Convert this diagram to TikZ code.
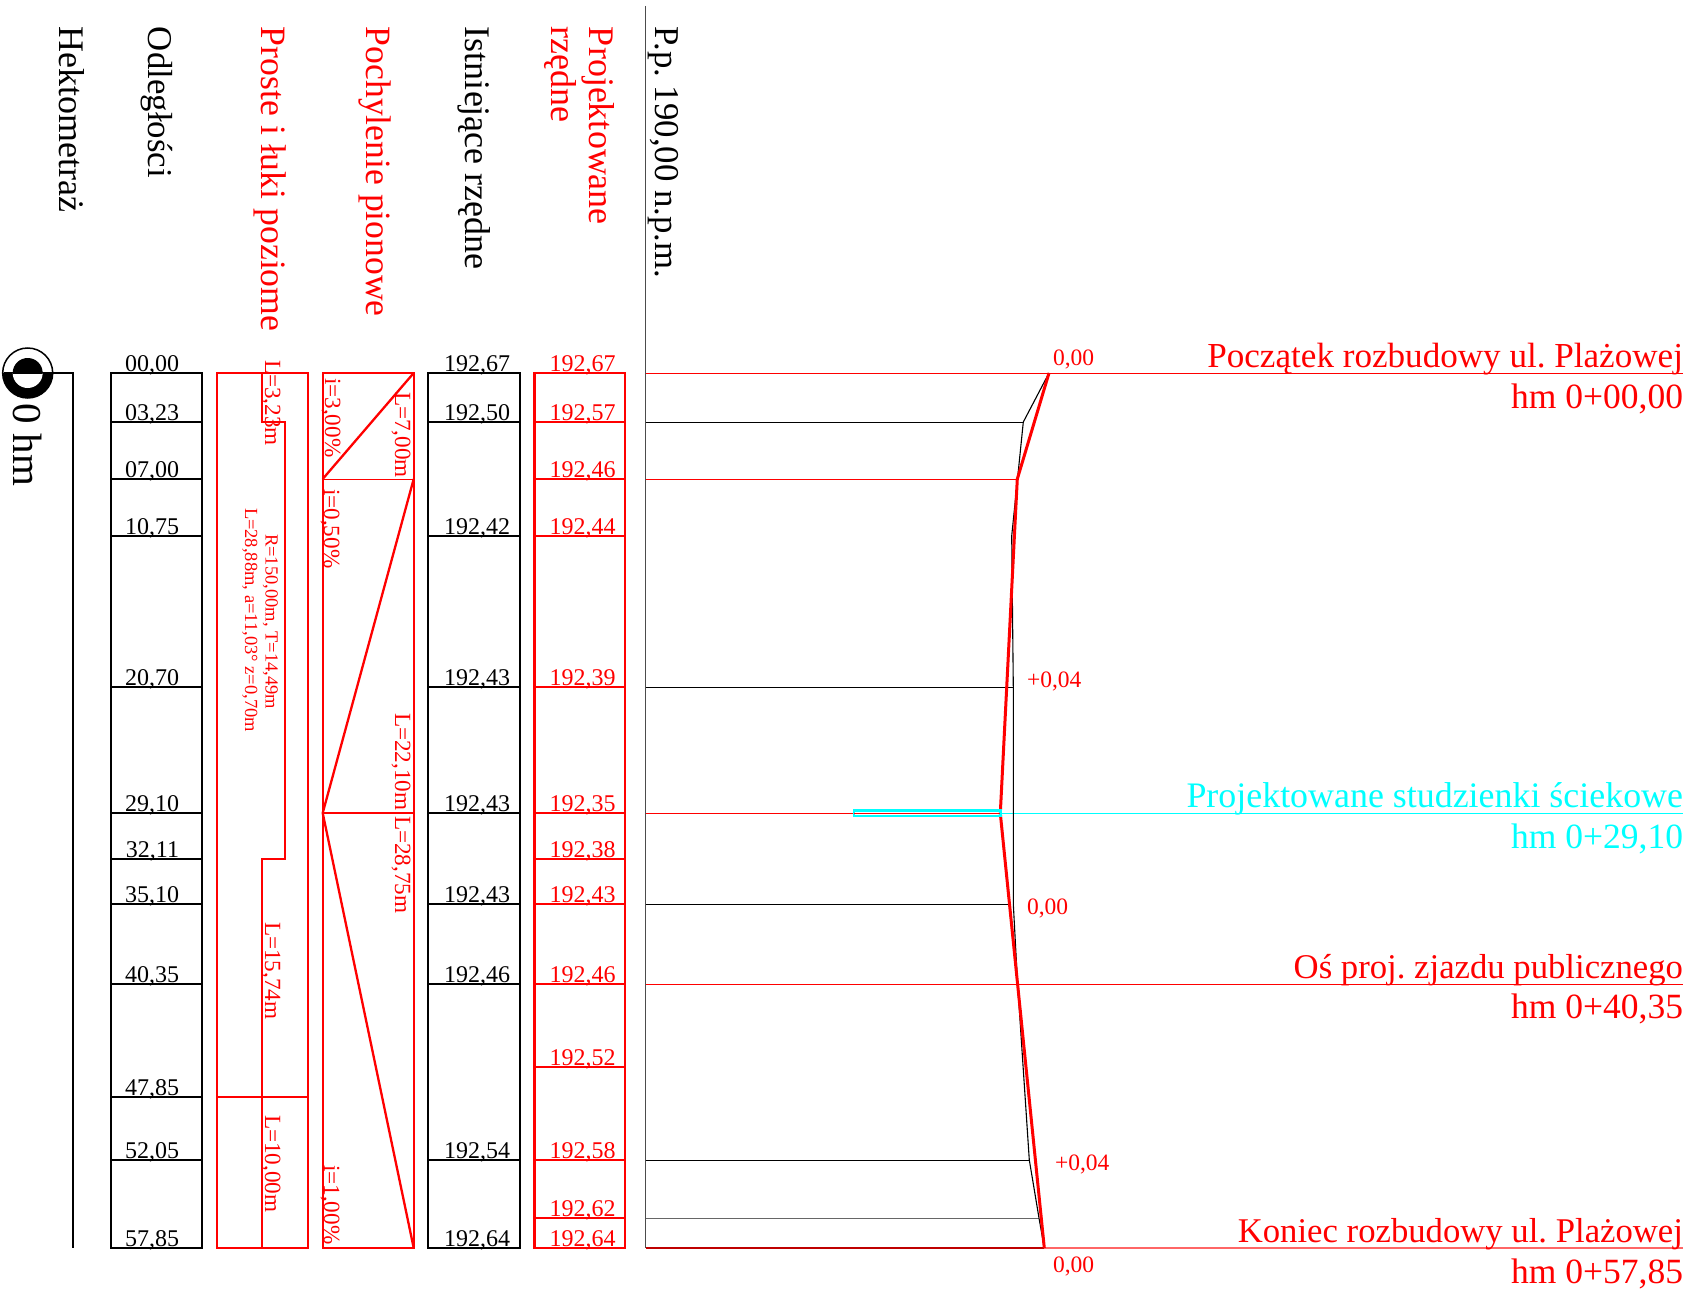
\documentclass[tikz,border=0pt]{standalone}
\usepackage{fontspec}
\setmainfont{Liberation Serif}
\frenchspacing
\definecolor{rd}{HTML}{FF0000}
\definecolor{cy}{HTML}{00FFFF}
\tikzset{
  x=1pt,y=-1pt,
  every node/.style={inner sep=0pt,outer sep=0pt},
  col/.style={line width=2.3pt,draw=#1},
  thin row/.style={line width=0.9pt,draw=#1},
  hdr/.style={rotate=-90,anchor=base west,font=\fontsize{36}{38}\selectfont},
  num/.style={anchor=base east,font=\fontsize{24}{26}\selectfont},
  vlab/.style={rotate=-90,anchor=base west,text=rd,font=\fontsize{23.2}{25}\selectfont},
  vsmall/.style={rotate=-90,anchor=base west,text=rd,font=\fontsize{18.5}{20}\selectfont},
  biglab/.style={anchor=base east,font=\fontsize{35.5}{38}\selectfont},
  small/.style={anchor=base west,text=rd,font=\fontsize{23.5}{25}\selectfont},
}
\begin{document}
\begin{tikzpicture}
\useasboundingbox (0,0) rectangle (1690,1290);
% headers
\node[hdr] (h1) at (59,27) {Hektometraż};
\node[hdr,font=\fontsize{34.8}{38}\selectfont] (h2) at (148,27) {Odległości};
\node[hdr,text=rd,font=\fontsize{35.7}{38}\selectfont] (h3) at (261,27) {Proste i łuki poziome};
\node[hdr,text=rd,font=\fontsize{35.6}{38}\selectfont] (h4) at (366,27) {Pochylenie pionowe};
\node[hdr] (h5) at (465,27) {Istniejące rzędne};
\node[hdr,text=rd] (h6a) at (589,27) {Projektowane};
\node[hdr,text=rd] (h6b) at (551,27) {rzędne};
\node[hdr,font=\fontsize{34.8}{38}\selectfont] (h7) at (655,27) {P.p. 190,00 n.p.m.};
% hectometre axis and mark
\draw[line width=2pt] (4,373) -- (73,373) -- (73,1248);
\begin{scope}
  \clip (0,373) rectangle (60,410);
  \fill[black] (27.7,373) circle[radius=25];
  \fill[white] (27.7,373) circle[radius=15];
\end{scope}
\begin{scope}
  \clip (0,340) rectangle (60,373);
  \fill[black] (27.7,373) circle[radius=15];
\end{scope}
\draw[line width=1.5pt] (27.7,373) circle[radius=25];
\node[rotate=-90,anchor=base west,font=\fontsize{41}{43}\selectfont] (hm) at (13,403) {0 hm};
% distances column
\draw[col=black] (111,373) rectangle (202,1248);
\foreach \y in {422,479,536,687,813,859,904,984,1097,1160}
  \draw[col=black] (111,\y) -- (202,\y);
\node[num] (d1) at (179,371) {00,00};
\node[num] (d2) at (179,420) {03,23};
\node[num] (d3) at (179,477) {07,00};
\node[num] (d4) at (179,534) {10,75};
\node[num] (d5) at (179,685) {20,70};
\node[num] (d6) at (179,811) {29,10};
\node[num] (d7) at (179,857) {32,11};
\node[num] (d8) at (179,902) {35,10};
\node[num] (d9) at (179,982) {40,35};
\node[num] (d10) at (179,1095) {47,85};
\node[num] (d11) at (179,1158) {52,05};
\node[num] (d12) at (179,1246) {57,85};
% straights and arcs
\draw[col=rd] (217,373) rectangle (308,1248);
\draw[col=rd] (262.3,373) -- (262.3,422) -- (285,422) -- (285,859) -- (262.3,859) -- (262.3,1248);
\draw[col=rd] (217,1097) -- (308,1097);
\node[vlab] (s1) at (265,360) {L=3,23m};
\node[vsmall] (s2) at (265.5,534) {R=150,00m, T=14,49m};
\node[vsmall] (s3) at (245,508) {L=28,88m, a=11,03° z=0,70m};
\node[vlab] (s4) at (265,922) {L=15,74m};
\node[vlab] (s5) at (265,1115) {L=10,00m};
% gradients
\draw[col=rd] (322.7,373) rectangle (413.7,1248);
\draw[thin row=rd] (322.7,479) -- (413.7,479);
\draw[col=rd] (322.7,813) -- (413.7,813);
\draw[col=rd] (413.7,373) -- (322.7,479);
\draw[col=rd] (413.7,479) -- (322.7,813) -- (413.7,1248);
\node[vlab] (g1) at (325,378) {i=3,00\%};
\node[vlab] (g2) at (395,392) {L=7,00m};
\node[vlab] (g3) at (324,489) {i=0,50\%};
\node[vlab] (g4) at (395,713) {L=22,10m};
\node[vlab] (g5) at (395,816) {L=28,75m};
\node[vlab] (g6) at (324,1165) {i=1,00\%};
% existing levels
\draw[col=black] (428,373) rectangle (520,1248);
\foreach \y in {422,536,687,813,904,984,1160}
  \draw[col=black] (428,\y) -- (520,\y);
\node[num] (e1) at (510,371) {192,67};
\node[num] (e2) at (510,420) {192,50};
\node[num] (e3) at (510,534) {192,42};
\node[num] (e4) at (510,685) {192,43};
\node[num] (e5) at (510,811) {192,43};
\node[num] (e6) at (510,902) {192,43};
\node[num] (e7) at (510,982) {192,46};
\node[num] (e8) at (510,1158) {192,54};
\node[num] (e9) at (510,1246) {192,64};
% designed levels
\draw[col=rd] (534.5,373) rectangle (625,1248);
\foreach \y in {422,479,536,687,813,859,904,984,1067,1160,1218}
  \draw[col=rd] (534.5,\y) -- (625,\y);
\begin{scope}[every node/.append style={text=rd}]
\node[num] (p1) at (615.5,371) {192,67};
\node[num] (p2) at (615.5,420) {192,57};
\node[num] (p3) at (615.5,477) {192,46};
\node[num] (p4) at (615.5,534) {192,44};
\node[num] (p5) at (615.5,685) {192,39};
\node[num] (p6) at (615.5,811) {192,35};
\node[num] (p7) at (615.5,857) {192,38};
\node[num] (p8) at (615.5,902) {192,43};
\node[num] (p9) at (615.5,982) {192,46};
\node[num] (p10) at (615.5,1065) {192,52};
\node[num] (p11) at (615.5,1158) {192,58};
\node[num] (p12) at (615.5,1216) {192,62};
\node[num] (p13) at (615.5,1246) {192,64};
\end{scope}
% profile
\draw[line width=1.2pt,black!70] (645.7,6) -- (645.7,1248);
% cross lines
\draw[thin row=rd] (645.7,373) -- (1683,373);
\draw[thin row=black] (645.7,422) -- (1023.3,422);
\draw[thin row=rd] (645.7,479) -- (1017.3,479);
\draw[thin row=black] (645.7,687) -- (1013.3,687);
\draw[thin row=rd] (645.7,813.3) -- (1000.3,813.3);
\draw[thin row=cy] (1000.3,813.3) -- (1683,813.3);
\draw[thin row=black] (645.7,904) -- (1011,904);
\draw[thin row=rd] (645.7,984) -- (1683,984);
\draw[thin row=black] (645.7,1160) -- (1029.3,1160);
\draw[thin row=black!60] (645.7,1218) -- (1039,1218);
\draw[line width=1.4pt,rd!75!black] (645.7,1248) -- (1044.3,1248);
\draw[line width=1.4pt,rd!60] (1044.3,1248) -- (1683,1248);
% existing profile
\coordinate (b0) at (1049,373);
\coordinate (b1) at (1023.3,422);
\coordinate (b2) at (1011.7,536);
\coordinate (b3) at (1013.3,687);
\coordinate (b4) at (1013.3,904);
\coordinate (b5) at (1017.6,984);
\coordinate (b6) at (1029.3,1160);
\coordinate (b7) at (1039,1218);
\coordinate (b8) at (1044.3,1248);
\draw[line width=1.1pt,black] (b0) -- (b1) -- (b2) -- (b3) -- (b4) -- (b5) -- (b6) -- (b7) -- (b8);
% designed profile
\coordinate (r0) at (1049,373);
\coordinate (r1) at (1017.3,479);
\coordinate (r2) at (1000.3,813.3);
\coordinate (r3) at (1044.3,1248);
\draw[line width=3pt,rd] (r0) -- (r1) -- (r2) -- (r3);
% gully
\draw[line width=2.4pt,cy] (854,810.6) rectangle (1000.5,816);
\draw[line width=1.2pt,rd] (854,813.3) -- (1000.3,813.3);
% profile labels
\node[small] (v1) at (1053,365.5) {0,00};
\node[small] (v2) at (1027,687) {+0,04};
\node[small] (v3) at (1027,914) {0,00};
\node[small] (v4) at (1055,1170) {+0,04};
\node[small] (v5) at (1053,1272) {0,00};
\node[biglab,text=rd,font=\fontsize{35.1}{38}\selectfont] (t1) at (1683,367.5) {Początek rozbudowy ul. Plażowej};
\node[biglab,text=rd] (t2) at (1683,408.5) {hm 0+00,00};
\node[biglab,text=cy,font=\fontsize{35.9}{38}\selectfont] (t3) at (1683,807) {Projektowane studzienki ściekowe};
\node[biglab,text=cy] (t4) at (1683,848) {hm 0+29,10};
\node[biglab,text=rd,font=\fontsize{34.7}{38}\selectfont] (t5) at (1683,978) {Oś proj. zjazdu publicznego};
\node[biglab,text=rd] (t6) at (1683,1018) {hm 0+40,35};
\node[biglab,text=rd,font=\fontsize{34.7}{38}\selectfont] (t7) at (1683,1242) {Koniec rozbudowy ul. Plażowej};
\node[biglab,text=rd] (t8) at (1683,1283) {hm 0+57,85};
\end{tikzpicture}
\end{document}
